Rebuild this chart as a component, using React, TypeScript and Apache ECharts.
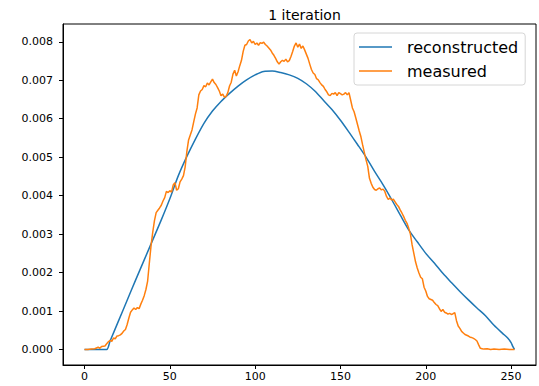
import React, { useEffect, useRef } from "react";
import * as echarts from "echarts";

const titleText = "1 iteration";
const seriesNames = ["reconstructed", "measured"];
const xTicks = [0, 50, 100, 150, 200, 250];
const yTicks = [0, 0.001, 0.002, 0.003, 0.004, 0.005, 0.006, 0.007, 0.008];

const reconstructed: [number, number][] = [
  [0, 0], [5, 0], [10, 0], [13, 0], [15, 0.00022], [20, 0.00075], [25, 0.00128],
  [30, 0.00181], [35, 0.00233], [40, 0.00285], [45, 0.00337], [50, 0.00392],
  [55, 0.00452], [60, 0.00502], [65, 0.00547], [70, 0.00588], [75, 0.0062],
  [80, 0.00645], [85, 0.00666], [90, 0.00685], [95, 0.00701], [100, 0.00714],
  [105, 0.00723], [110, 0.00724], [115, 0.0072], [120, 0.00714], [125, 0.00705],
  [130, 0.00691], [135, 0.00672], [140, 0.00648], [145, 0.00624], [150, 0.00596],
  [155, 0.00565], [160, 0.00533], [165, 0.005], [170, 0.00463], [175, 0.00428],
  [180, 0.0039], [185, 0.0035], [190, 0.00311], [195, 0.0028], [200, 0.0025],
  [205, 0.00225], [210, 0.00198], [215, 0.00174], [220, 0.00151], [225, 0.00129],
  [230, 0.00108], [235, 0.00088], [240, 0.00063], [245, 0.00042], [248, 0.0003],
  [250, 0.00018], [251, 0.00008], [252, 0],
];

const measured: [number, number][] = [
  [0, 0], [2, 0], [4, 0.00001], [6, 0.00002], [8, 0.00006], [9, 0.00003], [10, 0.00008],
  [12, 0.00009], [13, 0.00015], [14, 0.0002], [15, 0.00024], [16, 0.00021], [17, 0.0003],
  [18, 0.00028], [19, 0.00035], [20, 0.00036], [21, 0.00038], [22, 0.00042], [23, 0.00048],
  [24, 0.00052], [25, 0.00065], [26, 0.00082], [27, 0.00097], [28, 0.00103], [29, 0.00108],
  [30, 0.00104], [31, 0.00109], [32, 0.00106], [33, 0.00118], [34, 0.00128], [35, 0.0014],
  [36, 0.00156], [37, 0.00178], [38, 0.00225], [39, 0.0027], [40, 0.00305], [41, 0.00335],
  [42, 0.00356], [43, 0.00362], [44, 0.00368], [45, 0.00375], [46, 0.00386], [47, 0.00395],
  [48, 0.00411], [49, 0.00408], [50, 0.00413], [51, 0.00409], [52, 0.00428], [53, 0.00434],
  [54, 0.00414], [55, 0.00418], [56, 0.00436], [57, 0.00443], [58, 0.00452], [59, 0.00475],
  [60, 0.00515], [61, 0.00545], [62, 0.00558], [63, 0.00571], [64, 0.00592], [65, 0.00612],
  [66, 0.00628], [67, 0.00662], [68, 0.00672], [69, 0.00676], [70, 0.00686], [71, 0.00683],
  [72, 0.00693], [73, 0.00688], [74, 0.00696], [75, 0.00703], [76, 0.00694], [77, 0.00689],
  [78, 0.00681], [79, 0.00672], [80, 0.0066], [81, 0.00664], [82, 0.00656], [83, 0.00658],
  [84, 0.00668], [85, 0.00685], [86, 0.00695], [87, 0.00716], [88, 0.00726], [89, 0.00711],
  [90, 0.00722], [91, 0.00738], [92, 0.00752], [93, 0.00775], [94, 0.00791], [95, 0.00793],
  [96, 0.00802], [97, 0.00806], [98, 0.00797], [99, 0.00801], [100, 0.00793], [101, 0.00797],
  [102, 0.00791], [103, 0.00798], [104, 0.00796], [105, 0.00799], [106, 0.00793], [107, 0.00789],
  [108, 0.00784], [109, 0.00779], [110, 0.00771], [111, 0.00765], [112, 0.00757], [113, 0.00748],
  [114, 0.00742], [115, 0.00748], [116, 0.00752], [117, 0.00749], [118, 0.00755], [119, 0.00748],
  [120, 0.00751], [121, 0.00762], [122, 0.00775], [123, 0.00789], [124, 0.00797], [125, 0.00786],
  [126, 0.00794], [127, 0.00783], [128, 0.00789], [129, 0.00779], [130, 0.00768], [131, 0.00757],
  [132, 0.00742], [133, 0.00728], [134, 0.00719], [135, 0.00715], [136, 0.00704], [137, 0.00701],
  [138, 0.00694], [139, 0.00688], [140, 0.00684], [141, 0.00676], [142, 0.0067], [143, 0.00662],
  [144, 0.0066], [145, 0.00666], [146, 0.00664], [147, 0.00668], [148, 0.0066], [149, 0.00668],
  [150, 0.00665], [151, 0.00662], [152, 0.00664], [153, 0.00668], [154, 0.00662], [155, 0.00668],
  [156, 0.00648], [157, 0.00628], [158, 0.00618], [159, 0.00602], [160, 0.00585], [161, 0.00568],
  [162, 0.00553], [163, 0.00532], [164, 0.00512], [165, 0.00493], [166, 0.00476], [167, 0.00445],
  [168, 0.00432], [169, 0.00422], [170, 0.00416], [171, 0.00414], [172, 0.00418], [173, 0.0042],
  [174, 0.00415], [175, 0.00417], [176, 0.00411], [177, 0.00398], [178, 0.0039], [179, 0.00394],
  [180, 0.00389], [181, 0.00391], [182, 0.00384], [183, 0.00377], [184, 0.00372], [185, 0.00363],
  [186, 0.00355], [187, 0.00346], [188, 0.00336], [189, 0.00328], [190, 0.00315], [191, 0.003],
  [192, 0.00272], [193, 0.0025], [194, 0.00228], [195, 0.00212], [196, 0.00199], [197, 0.00188],
  [198, 0.00184], [199, 0.00162], [200, 0.00152], [201, 0.00138], [202, 0.00132], [203, 0.0013],
  [204, 0.00128], [205, 0.00122], [206, 0.00117], [207, 0.00114], [208, 0.00106], [209, 0.00099],
  [210, 0.00104], [211, 0.00097], [212, 0.00095], [213, 0.00092], [214, 0.00094], [215, 0.00091],
  [216, 0.00093], [217, 0.00096], [218, 0.00075], [219, 0.00061], [220, 0.00055], [221, 0.00047],
  [222, 0.00043], [223, 0.00039], [224, 0.00037], [225, 0.00035], [226, 0.00032], [227, 0.00031],
  [228, 0.00029], [229, 0.00026], [230, 0.00022], [231, 0.00012], [232, 0.00003], [233, 0.00002],
  [234, 0.00001], [236, 0.00002], [238, 0], [240, 0.00001], [243, 0], [246, 0.00001], [249, 0],
  [252, 0],
];

const FONT = "DejaVu Sans";

export default function App() {
  const ref = useRef<HTMLDivElement>(null);
  useEffect(() => {
    if (!ref.current) return;
    const chart = echarts.init(ref.current, null, { renderer: "svg" });
    chart.setOption({
      animation: false,
      backgroundColor: "#ffffff",
      textStyle: { fontFamily: FONT },
      title: {
        text: titleText,
        left: 299.5,
        top: 3,
        textAlign: "center",
        textStyle: { fontFamily: FONT, fontSize: 14, fontWeight: "normal", color: "#000" },
      },
      legend: {
        data: seriesNames,
        orient: "vertical",
        left: 354,
        top: 33,
        padding: [5, 7, 5, 5],
        itemGap: 6,
        itemWidth: 33,
        itemHeight: 1.6,
        icon: "rect",
        backgroundColor: "rgba(255,255,255,0.8)",
        borderColor: "#d6d6d6",
        borderWidth: 1,
        borderRadius: 3,
        textStyle: {
          fontFamily: FONT,
          fontSize: 16,
          lineHeight: 18,
          color: "#000",
          padding: [0, 0, 0, 10],
        },
      },
      grid: {
        left: 63,
        top: 24,
        right: 3,
        bottom: 21,
        show: true,
        borderColor: "#000",
        borderWidth: 1,
        backgroundColor: "transparent",
      },
      xAxis: {
        type: "value",
        min: -12.6,
        max: 264.6,
        splitLine: { show: false },
        axisLine: { show: true, onZero: false, lineStyle: { color: "#000", width: 1 } },
        axisTick: {
          show: true,
          length: 4,
          lineStyle: { color: "#000" },
          customValues: xTicks,
        },
        axisLabel: {
          color: "#000",
          fontFamily: FONT,
          fontSize: 11,
          margin: 6,
          customValues: xTicks,
          formatter: (v: number) => String(v),
        },
      },
      yAxis: {
        type: "value",
        min: -0.000403,
        max: 0.008463,
        splitLine: { show: false },
        axisLine: { show: true, onZero: false, lineStyle: { color: "#000", width: 1 } },
        axisTick: {
          show: true,
          length: 4,
          lineStyle: { color: "#000" },
          customValues: yTicks,
        },
        axisLabel: {
          color: "#000",
          fontFamily: FONT,
          fontSize: 11,
          margin: 10,
          customValues: yTicks,
          formatter: (v: number) => v.toFixed(3),
        },
      },
      series: [
        {
          name: seriesNames[0],
          type: "line",
          data: reconstructed,
          symbol: "none",
          smooth: 0.3,
          lineStyle: { color: "#1f77b4", width: 1.5 },
          itemStyle: { color: "#1f77b4" },
        },
        {
          name: seriesNames[1],
          type: "line",
          data: measured,
          symbol: "none",
          lineStyle: { color: "#ff7f0e", width: 1.5 },
          itemStyle: { color: "#ff7f0e" },
        },
      ],
    });
    return () => chart.dispose();
  }, []);
  return (
    <div
      ref={ref}
      style={{ position: "absolute", left: 0, top: 0, width: 539, height: 386 }}
    />
  );
}
